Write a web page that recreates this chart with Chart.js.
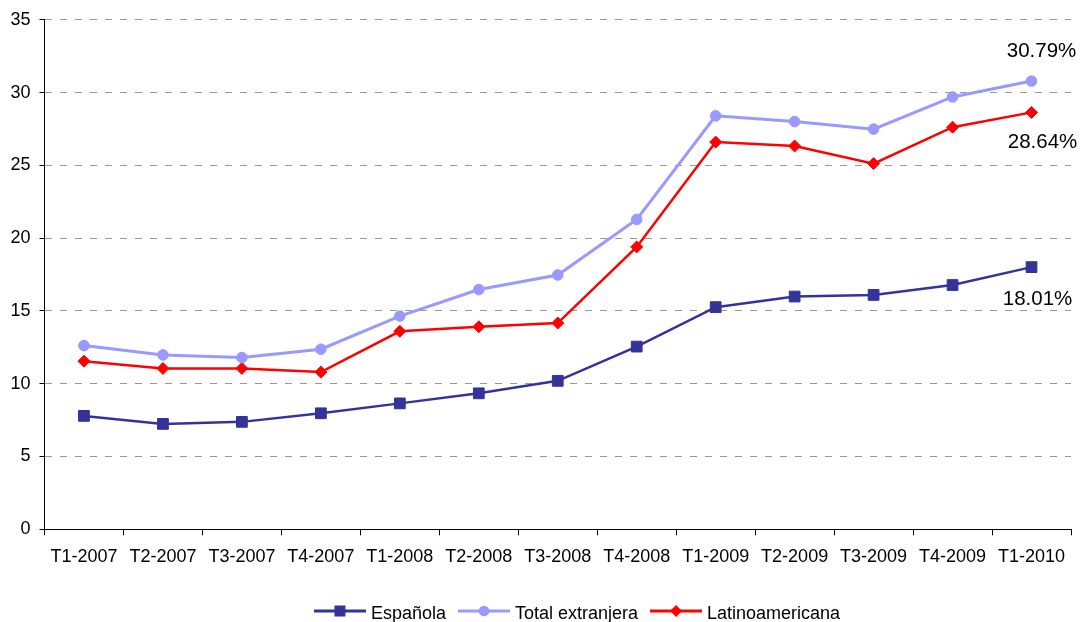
<!DOCTYPE html>
<html>
<head>
<meta charset="utf-8">
<title>Tasa de paro por nacionalidad</title>
<script src="https://cdn.jsdelivr.net/npm/chart.js@4.4.1/dist/chart.umd.min.js"></script>
<style>
  html, body { margin: 0; padding: 0; background: #ffffff; }
  #wrap { width: 1081px; height: 622px; position: relative; }
</style>
</head>
<body>
<div id="wrap"><canvas id="chart" width="1081" height="622"></canvas></div>
<script>
// Quarters on the category axis
const quarters = ['T1-2007', 'T2-2007', 'T3-2007', 'T4-2007', 'T1-2008', 'T2-2008', 'T3-2008',
                  'T4-2008', 'T1-2009', 'T2-2009', 'T3-2009', 'T4-2009', 'T1-2010'];

// Unemployment rate (%) by nationality
const espanola        = [7.79, 7.24, 7.38, 7.97, 8.65, 9.34, 10.20, 12.55, 15.26, 15.99, 16.10, 16.78, 18.01];
const totalExtranjera = [12.62, 11.98, 11.80, 12.37, 14.65, 16.47, 17.47, 21.29, 28.40, 28.01, 27.49, 29.70, 30.79];
const latinoamericana = [11.55, 11.05, 11.05, 10.80, 13.60, 13.91, 14.17, 19.40, 26.60, 26.33, 25.12, 27.62, 28.64];

const seriesNames = ['Española', 'Total extranjera', 'Latinoamericana'];

// Value axis
const yMin = 0, yMax = 35, yStep = 5;

const FONT = '"Liberation Sans", Arial, sans-serif';
const colors = ['#333399', '#9999FF', '#FF0000'];

// Legend glyph: a short line with the series marker in its middle
function legendGlyph(color, shape) {
  const c = document.createElement('canvas');
  c.width = 52; c.height = 20;
  const g = c.getContext('2d');
  const cy = 7, cx = 26;
  g.strokeStyle = color; g.fillStyle = color; g.lineWidth = 3;
  g.beginPath(); g.moveTo(0, cy); g.lineTo(52, cy); g.stroke();
  g.beginPath();
  if (shape === 'rect') {
    g.rect(cx - 5.5, cy - 5.5, 11, 11);
  } else if (shape === 'circle') {
    g.arc(cx, cy, 5.3, 0, Math.PI * 2);
  } else {
    g.moveTo(cx - 6, cy); g.lineTo(cx, cy - 6); g.lineTo(cx + 6, cy); g.lineTo(cx, cy + 6); g.closePath();
  }
  g.fill();
  return c;
}
const glyphs = [legendGlyph(colors[0], 'rect'), legendGlyph(colors[1], 'circle'), legendGlyph(colors[2], 'diamond')];

// Value labels next to the last point of each series
const endLabels = {
  id: 'endLabels',
  afterDatasetsDraw(chart) {
    const ctx = chart.ctx;
    const offsets = [[6, 32], [10, -30], [11, 30]];
    ctx.save();
    ctx.font = '20.5px ' + FONT;
    ctx.fillStyle = '#000000';
    ctx.textAlign = 'center';
    ctx.textBaseline = 'middle';
    chart.data.datasets.forEach((ds, i) => {
      const meta = chart.getDatasetMeta(i);
      const last = meta.data.length - 1;
      const pt = meta.data[last];
      const v = ds.data[last];
      ctx.fillText(v.toFixed(2) + '%', pt.x + offsets[i][0], pt.y + offsets[i][1]);
    });
    ctx.restore();
  }
};

// Place the legend row under the plot, centred on the series block
const legendPlacement = {
  id: 'legendPlacement',
  afterLayout(chart) {
    const lg = chart.legend;
    if (!lg) return;
    const dx = 579 - (lg.left + lg.right) / 2;
    const dy = 589 - lg.top;
    lg.left += dx; lg.right += dx;
    lg.top += dy; lg.bottom += dy;
  }
};

const makeDataset = (i, data, style, radius, width) => ({
  label: seriesNames[i],
  data: data,
  borderColor: colors[i],
  backgroundColor: colors[i],
  borderWidth: width,
  pointStyle: style,
  pointRadius: radius,
  pointHoverRadius: radius,
  pointBorderWidth: 1,
  pointBorderColor: colors[i],
  pointBackgroundColor: colors[i],
  tension: 0,
  fill: false
});

new Chart(document.getElementById('chart'), {
  type: 'line',
  data: {
    labels: quarters,
    datasets: [
      makeDataset(0, espanola, 'rect', 7.6, 2.5),
      makeDataset(1, totalExtranjera, 'circle', 5.3, 3),
      makeDataset(2, latinoamericana, 'rectRot', 6, 2.5)
    ]
  },
  options: {
    responsive: false,
    devicePixelRatio: 1,
    animation: false,
    layout: { padding: { top: 17, right: 10, bottom: 0, left: 0 } },
    plugins: {
      tooltip: { enabled: false },
      legend: {
        position: 'bottom',
        labels: {
          font: { family: FONT, size: 18 },
          color: '#000000',
          usePointStyle: true,
          pointStyleWidth: 44,
          padding: 16,
          generateLabels(chart) {
            return Chart.defaults.plugins.legend.labels.generateLabels(chart).map((item, i) => {
              item.pointStyle = glyphs[i];
              return item;
            });
          }
        }
      }
    },
    scales: {
      x: {
        offset: true,
        grid: {
          offset: true,
          drawOnChartArea: false,
          drawTicks: true,
          tickLength: 6,
          tickColor: '#000000',
          tickWidth: 1
        },
        border: { display: true, color: '#000000', width: 1 },
        ticks: {
          font: { family: FONT, size: 18 },
          color: '#000000',
          padding: 11,
          maxRotation: 0,
          autoSkip: false
        },
        afterFit(scale) {
          scale.height = 622 - 529.3 - scale.chart.legend.height;
        }
      },
      y: {
        min: yMin,
        max: yMax,
        ticks: {
          stepSize: yStep,
          font: { family: FONT, size: 18 },
          color: '#000000',
          padding: 9
        },
        grid: {
          color: (c) => (c.tick && c.tick.value === 0 ? 'rgba(0,0,0,0)' : '#999999'),
          lineWidth: 1,
          drawTicks: true,
          tickLength: 5,
          tickColor: '#000000'
        },
        border: { display: true, color: '#000000', width: 1, dash: [7, 8] },
        afterFit(scale) {
          scale.width = 44.5;
        }
      }
    }
  },
  plugins: [endLabels, legendPlacement]
});
</script>
</body>
</html>
